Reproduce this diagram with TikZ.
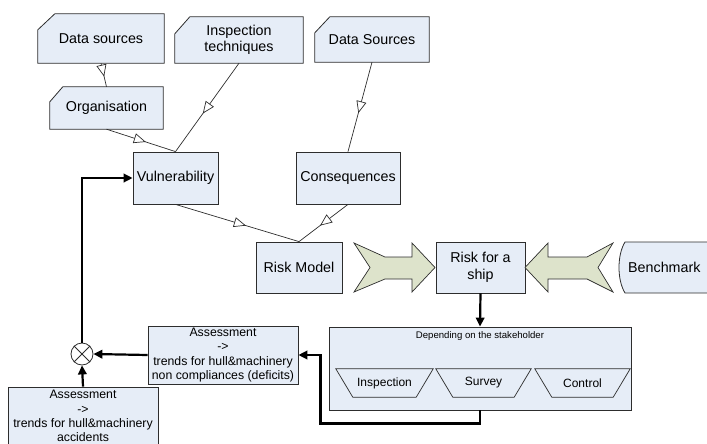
\documentclass[tikz,border=0pt]{standalone}
\usepackage{fontspec}
\setmainfont{Liberation Sans}
\usetikzlibrary{arrows.meta,decorations.markings,calc}
\pgfdeclarelayer{bg}
\pgfsetlayers{bg,main}
\definecolor{boxfill}{RGB}{230,237,247}
\definecolor{arrfill}{RGB}{221,227,203}
\definecolor{edge}{RGB}{45,45,45}
\begin{document}
\begin{tikzpicture}[x=1pt,y=-1pt,
  big/.style={font=\fontsize{14.3}{16.5}\selectfont},
  box/.style={draw=edge, fill=boxfill, line width=0.8pt, align=center, inner sep=0pt, big},
  cardtxt/.style={align=center, inner sep=0pt, big},
  cardline/.style={draw=edge, fill=boxfill, line width=0.8pt},
  asbox/.style={draw=edge, fill=boxfill, line width=0.8pt, align=center, inner sep=0pt,
     font=\fontsize{12.3}{14.3}\selectfont, minimum width=150pt, minimum height=58pt},
  trap/.style={align=center, inner sep=0pt, font=\fontsize{12}{14}\selectfont, minimum height=28pt},
  midarrow/.style={draw=edge, line width=0.7pt, postaction={decorate},
     decoration={markings, mark=at position 0.57 with {\arrow{Triangle[length=12pt,width=10pt,fill=white,line width=0.7pt]}}}},
  thickarrow/.style={line width=2.2pt, -{Triangle[length=9pt,width=8.5pt]}},
  bigarrow/.style={draw=edge, fill=arrfill, line width=0.7pt, line join=miter}
]
\useasboundingbox (0,0) rectangle (707,444);
\clip (0,0) rectangle (707,444);

% card nodes (text only, outline drawn on background layer)
\node[cardtxt, minimum width=126pt, minimum height=49pt] (ds1) at (101,38.5) {Data sources};
\node[cardtxt, minimum width=128pt, minimum height=46pt] (insp) at (239,40) {Inspection\\techniques};
\node[cardtxt, minimum width=114pt, minimum height=45pt] (ds2) at (372,39.5) {Data Sources};
\node[cardtxt, minimum width=113pt, minimum height=42pt] (org) at (106.5,108) {Organisation};
\node[cardtxt, anchor=west] (bench) at (628,267.5) {Benchmark};

\begin{pgfonlayer}{bg}
  \path[cardline] (ds1.south west) -- ([yshift=-16pt]ds1.north west) -- ([xshift=17pt]ds1.north west) -- (ds1.north east) -- (ds1.south east) -- cycle;
  \path[cardline] (insp.south west) -- ([yshift=-17pt]insp.north west) -- ([xshift=15pt]insp.north west) -- (insp.north east) -- (insp.south east) -- cycle;
  \path[cardline] (ds2.south west) -- ([yshift=-16pt]ds2.north west) -- ([xshift=15pt]ds2.north west) -- (ds2.north east) -- (ds2.south east) -- cycle;
  \path[cardline] (org.south west) -- ([yshift=-15pt]org.north west) -- ([xshift=13pt]org.north west) -- (org.north east) -- (org.south east) -- cycle;
  \path[cardline] (625,242) -- (730,242) -- (730,293) -- (625,293) .. controls (617,280) and (617,255) .. cycle;
\end{pgfonlayer}

% plain boxes
\node[box, minimum width=85pt, minimum height=52pt] (vul) at (175.5,178) {Vulnerability};
\node[box, minimum width=104pt, minimum height=52pt] (cons) at (348,178) {Consequences};
\node[box, minimum width=86pt, minimum height=51pt] (rm) at (299,267.5) {Risk Model};
\node[box, minimum width=89pt, minimum height=51pt] (rs) at (480.5,267.5) {Risk for a\\ship};

% thin connectors with mid arrows
\path[midarrow] (ds1.south) -- (org.north);
\path[midarrow] (org.south) -- (vul.north);
\path[midarrow] (insp.south) -- (vul.north);
\path[midarrow] (ds2.south) -- (cons.north);
\path[midarrow] (vul.south) -- (rm.north);
\path[midarrow] (cons.south) -- (rm.north);

% big arrows
\path[bigarrow] (354,243) -- (385,257) -- (412,257) -- (412,243) -- (435,267.5) -- (412,292) -- (412,279) -- (385,279) -- (354,292) -- (370,267.5) -- cycle;
\path[bigarrow] (525,267.5) -- (548,243) -- (548,257) -- (587,257) -- (613,243) -- (598,267.5) -- (613,292) -- (587,279) -- (548,279) -- (548,292) -- cycle;

% stakeholder box
\node[box, minimum width=302pt, minimum height=83pt] (dep) at (480,368.5) {};
\node[font=\fontsize{9.6}{11}\selectfont, inner sep=0pt] (deptitle) at (480,336) {Depending on the stakeholder};
\node[trap, minimum width=97pt] (tinsp) at (384.5,383) {Inspection};
\node[trap, minimum width=95pt] (tsurv) at (483.5,383) {Survey};
\node[trap, minimum width=95pt] (tcont) at (582.5,383) {Control};
\foreach \t in {tinsp,tsurv,tcont}{
  \draw[edge, line width=0.7pt] (\t.north west) -- (\t.north east) -- ([xshift=-17pt]\t.south east) -- ([xshift=17pt]\t.south west) -- cycle;
}

% assessments and sum
\node[asbox] (a1) at (223,355) {Assessment\\->\\trends for hull\&machinery\\non compliances (deficits)};
\node[asbox] (a2) at (83,416) {Assessment\\->\\trends for hull\&machinery\\accidents};
\node[draw=edge, circle, minimum size=22pt, inner sep=0pt, fill=white, line width=0.8pt] (sum) at (82,354) {};
\draw[edge, line width=0.8pt] (sum.45) -- (sum.225) (sum.135) -- (sum.315);

% thick connectors
\draw[thickarrow] (rs.south) -- (dep.north);
\draw[thickarrow] (dep.south) -- ++(0,13) -| ([xshift=22pt]a1.east) -- (a1.east);
\draw[thickarrow] (a1.west) -- (sum.east);
\draw[thickarrow] (a2.north) -- (sum.south);
\draw[thickarrow] (sum.north) |- (vul.west);
\end{tikzpicture}
\end{document}
